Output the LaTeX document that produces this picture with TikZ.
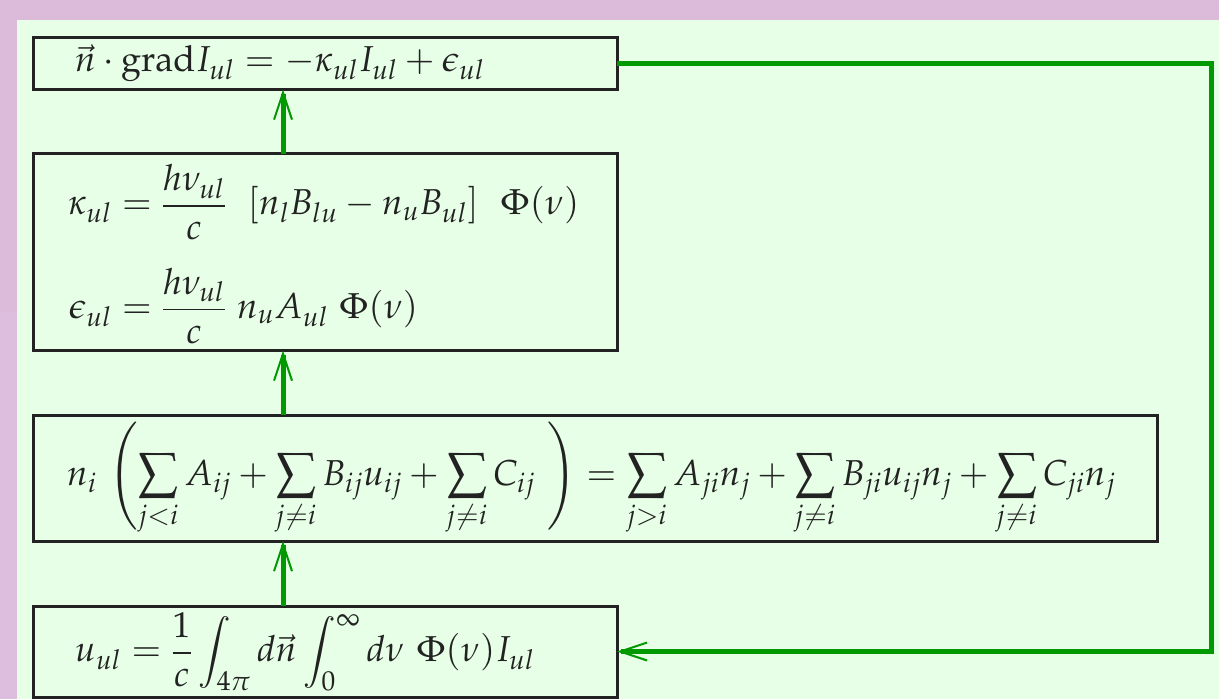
\documentclass[tikz,border=0pt]{standalone}
\usepackage{amsmath}
\usepackage{mathpazo}
\usetikzlibrary{arrows.meta,calc}
\definecolor{bgpurple}{RGB}{220,186,218}
\definecolor{bgpurplelow}{RGB}{222,190,222}
\definecolor{panel}{RGB}{230,255,230}
\definecolor{arrgreen}{RGB}{0,153,0}
\definecolor{ink}{RGB}{34,34,34}
\begin{document}
\begin{tikzpicture}[x=1pt,y=-1pt,
  eqbox/.style={draw=ink, line width=3pt, text=ink, rectangle, anchor=north west,
    align=left, inner ysep=0pt, outer sep=0pt, font=\fontsize{36}{43}\selectfont},
  eqtext/.style={text=ink, inner sep=0pt, anchor=west, font=\fontsize{36}{43}\selectfont},
  flow/.style={draw=arrgreen, line width=5pt, line join=miter,
    -{Straight Barb[length=27pt,width=18pt,line width=2pt]}}]
\fill[bgpurple] (0,0) rectangle (1219,699);
\fill[bgpurplelow] (0,312) rectangle (17,699);
\fill[panel] (17,20) rectangle (1219,699);
\useasboundingbox (0,0) rectangle (1219,699);

\node[eqbox, minimum width=584pt, minimum height=52pt, inner xsep=42pt, text width=500pt] (b1) at (33,37.5)
  {$\vec{n}\cdot\mathrm{grad} I_{ul} = -\kappa_{ul} I_{ul} + \epsilon_{ul}$};

\node[eqbox, minimum width=584pt, minimum height=197pt, inner sep=0pt] (b2) at (33,153.5) {};
\node[eqtext] (b2txt) at ($(b2.west)+(35,2)$)
  {$\begin{aligned}
    \kappa_{ul} &= \frac{h\nu_{ul}}{c}\ \ [n_l B_{lu} - n_u B_{ul}]\ \ \Phi(\nu)\\[24pt]
    \epsilon_{ul} &= \frac{h\nu_{ul}}{c}\ n_u A_{ul}\ \Phi(\nu)
  \end{aligned}$};

\node[eqbox, minimum width=1124pt, minimum height=126pt, inner xsep=34pt, text width=1056pt] (b3) at (33,415)
  {$\displaystyle n_i\ \Biggl( \sum_{j<i} A_{ij} + \sum_{j\neq i} B_{ij}u_{ij} + \sum_{j\neq i} C_{ij}\ \Biggr)
   = \sum_{j>i} A_{ji} n_j + \sum_{j\neq i} B_{ji} u_{ij} n_j + \sum_{j\neq i} C_{ji} n_j$};

\node[eqbox, minimum width=584pt, minimum height=91pt, inner xsep=42pt, text width=500pt] (b4) at (33,606)
  {$\displaystyle u_{ul} = \frac{1}{c}\int_{4\pi} d\vec{n} \int_0^\infty d\nu\ \Phi(\nu) I_{ul}$};

\coordinate (ax) at (283,0);
\coordinate (rx) at (1211.5,0);
\draw[flow] (b2.north -| ax) -- (b1.south -| ax);
\draw[flow] (b3.north -| ax) -- (b2.south -| ax);
\draw[flow] (b4.north -| ax) -- (b3.south -| ax);
\draw[flow] (b1.east) -- (b1.east -| rx) |- (b4.east);
\end{tikzpicture}
\end{document}
